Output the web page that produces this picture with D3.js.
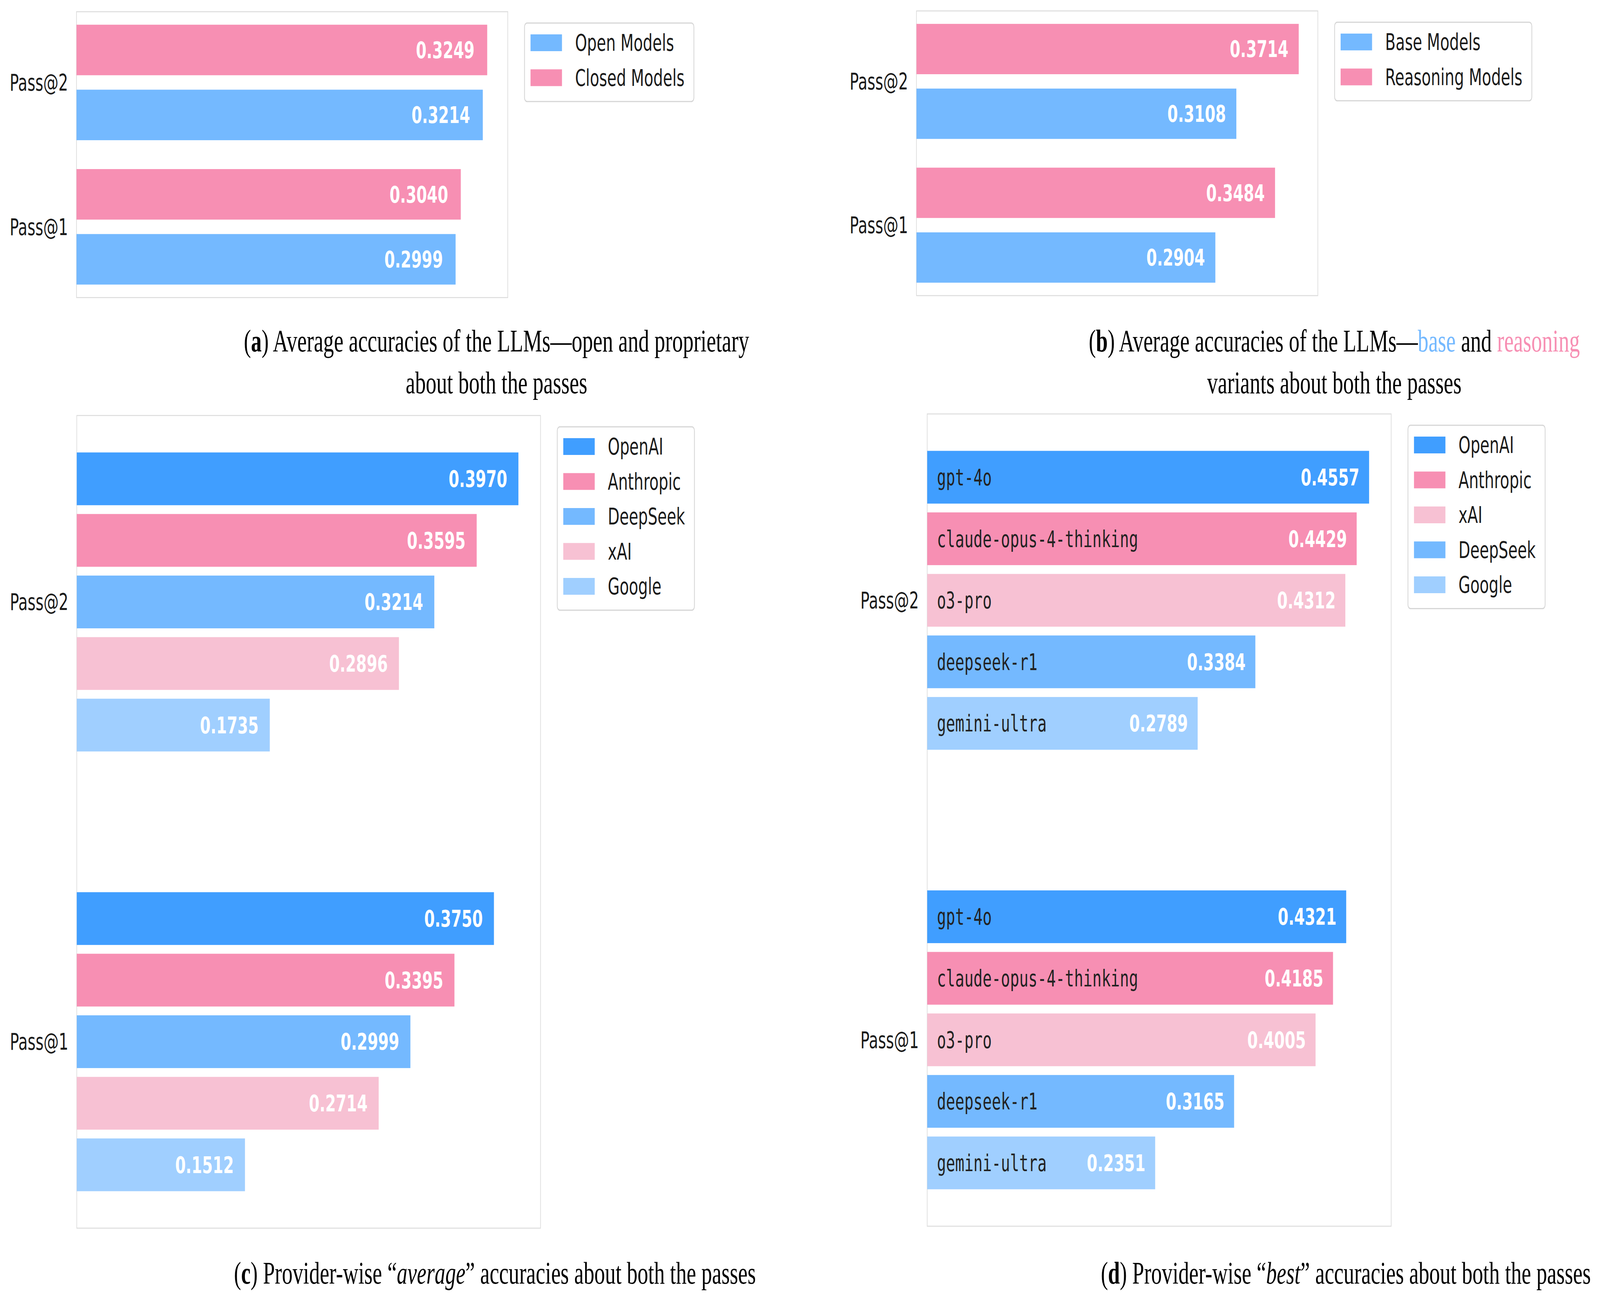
<!DOCTYPE html>
<html>
<head>
<meta charset="utf-8">
<script src="https://cdn.jsdelivr.net/npm/d3@7"></script>
<style>
  html, body { margin: 0; padding: 0; background: #fff; overflow: hidden; }
  svg { display: block; width: 100vw; height: 100vh; }
</style>
</head>
<body>
<div id="chart"></div>
<script>
// ---- data ----
const passes = ["Pass@1", "Pass@2"];

// (a) open vs closed
const openModels = [0.2999, 0.3214];
const closedModels = [0.3040, 0.3249];

// (b) base vs reasoning
const baseModels = [0.2904, 0.3108];
const reasoningModels = [0.3484, 0.3714];

// (c) provider-wise average
const providersAvg = ["OpenAI", "Anthropic", "DeepSeek", "xAI", "Google"];
const openaiAvg = [0.3750, 0.3970];
const anthropicAvg = [0.3395, 0.3595];
const deepseekAvg = [0.2999, 0.3214];
const xaiAvg = [0.2714, 0.2896];
const googleAvg = [0.1512, 0.1735];

// (d) provider-wise best
const providersBest = ["OpenAI", "Anthropic", "xAI", "DeepSeek", "Google"];
const bestModels = ["gpt-4o", "claude-opus-4-thinking", "o3-pro", "deepseek-r1", "gemini-ultra"];
const bestPass1 = [0.4321, 0.4185, 0.4005, 0.3165, 0.2351];
const bestPass2 = [0.4557, 0.4429, 0.4312, 0.3384, 0.2789];

const colors = {
  OpenAI: "#409EFF",
  Anthropic: "#F78FB3",
  DeepSeek: "#74B9FF",
  xAI: "#F7C1D3",
  Google: "#A0CFFF"
};
const blue = "#74B9FF", pink = "#F78FB3";

const W = 6107, H = 3329;
const FONT = "'DejaVu Sans', sans-serif";
const MONO = "'DejaVu Sans Mono', monospace";
const SERIF = "'Liberation Serif', 'DejaVu Serif', serif";
const FS = 58;

// drawn in 6107x3329 units, stretched to fill the window
const svg = d3.select("#chart").append("svg")
  .attr("viewBox", `0 0 ${W} ${H}`)
  .attr("preserveAspectRatio", "none");
svg.append("rect").attr("width", W).attr("height", H).attr("fill", "#fff");

function drawPanel(p) {
  const g = svg.append("g");
  const maxOff = d3.max(p.series, s => Math.abs(s.offset));
  const lo = -maxOff - p.barH / 2, hi = 1 + maxOff + p.barH / 2;
  const pad = (hi - lo) * 0.05;

  const x = d3.scaleLinear()
    .domain([0, d3.max(p.series, s => d3.max(s.values)) * 1.05])
    .range([p.x0, p.x1]);
  const y = d3.scaleLinear().domain([lo - pad, hi + pad]).range([p.y1, p.y0]);
  const bh = Math.abs(y(0) - y(p.barH));

  // frame
  g.append("rect")
    .attr("x", p.x0).attr("y", p.y0)
    .attr("width", p.x1 - p.x0).attr("height", p.y1 - p.y0)
    .attr("fill", "none").attr("stroke", "#dcdcdc").attr("stroke-width", 2.5);

  // bars
  p.series.forEach(s => {
    const rows = s.values.map((v, i) => ({ v, i, label: s.labels ? s.labels[i] : null }));
    g.append("g").selectAll("rect").data(rows).enter().append("rect")
      .attr("x", x(0))
      .attr("y", d => y(d.i + s.offset) - bh / 2)
      .attr("width", d => x(d.v) - x(0))
      .attr("height", bh)
      .attr("fill", s.color);

    g.append("g").selectAll("text").data(rows).enter().append("text")
      .attr("x", d => x(d.v - 0.01))
      .attr("y", d => y(d.i + s.offset))
      .attr("dy", "0.36em")
      .attr("text-anchor", "end")
      .attr("font-family", FONT).attr("font-weight", "bold")
      .attr("font-size", FS).attr("fill", "#fff")
      .text(d => d.v.toFixed(4));

    if (s.labels) {
      g.append("g").selectAll("text").data(rows).enter().append("text")
        .attr("x", x(0.01))
        .attr("y", d => y(d.i + s.offset))
        .attr("dy", "0.36em")
        .attr("font-family", MONO).attr("font-size", FS).attr("fill", "#222")
        .text(d => d.label);
    }
  });

  // y tick labels
  g.append("g").selectAll("text").data(passes).enter().append("text")
    .attr("x", p.x0 - 32)
    .attr("y", (d, i) => y(i))
    .attr("dy", "0.36em")
    .attr("text-anchor", "end")
    .attr("font-family", FONT).attr("font-size", FS).attr("fill", "#1a1a1a")
    .text(d => d);

  // legend
  const lx = p.x1 + 64, ly = p.y0 + 29;
  const rowH = 89.5;
  const lg = g.append("g");
  const box = lg.append("rect")
    .attr("x", lx).attr("y", ly).attr("rx", 10)
    .attr("height", p.legend.length * rowH + 22)
    .attr("fill", "#fff").attr("stroke", "#d6d6d6").attr("stroke-width", 3);
  const items = lg.selectAll("g.item").data(p.legend).enter().append("g");
  items.append("rect")
    .attr("x", lx + 23)
    .attr("y", (d, i) => ly + 29 + i * rowH)
    .attr("width", 120).attr("height", 43)
    .attr("fill", d => d.color);
  const labels = items.append("text")
    .attr("x", lx + 23 + 120 + 50)
    .attr("y", (d, i) => ly + 29 + i * rowH + 21.5)
    .attr("dy", "0.36em")
    .attr("font-family", FONT).attr("font-size", FS).attr("fill", "#1a1a1a")
    .text(d => d.name);
  let maxLen = 0;
  labels.each(function () { maxLen = Math.max(maxLen, this.getComputedTextLength()); });
  box.attr("width", 23 + 120 + 50 + maxLen + 36);
}

// (a)
drawPanel({
  x0: 292, x1: 1938, y0: 30, y1: 762, barH: 0.35,
  series: [
    { values: closedModels, color: pink, offset: 0.225 },
    { values: openModels, color: blue, offset: -0.225 }
  ],
  legend: [{ name: "Open Models", color: blue }, { name: "Closed Models", color: pink }]
});

// (b)
drawPanel({
  x0: 3498, x1: 5030, y0: 28, y1: 757, barH: 0.35,
  series: [
    { values: reasoningModels, color: pink, offset: 0.225 },
    { values: baseModels, color: blue, offset: -0.225 }
  ],
  legend: [{ name: "Base Models", color: blue }, { name: "Reasoning Models", color: pink }]
});

// (c)
const avgValues = [openaiAvg, anthropicAvg, deepseekAvg, xaiAvg, googleAvg];
drawPanel({
  x0: 293, x1: 2063, y0: 1064, y1: 3145, barH: 0.12,
  series: providersAvg.map((pr, k) => ({
    values: avgValues[k], color: colors[pr], offset: 0.28 - k * 0.14
  })),
  legend: providersAvg.map(pr => ({ name: pr, color: colors[pr] }))
});

// (d)
drawPanel({
  x0: 3539, x1: 5310, y0: 1060, y1: 3140, barH: 0.12,
  series: bestModels.map((m, k) => ({
    values: [bestPass1[k], bestPass2[k]],
    labels: [m, m],
    color: colors[providersBest[k]],
    offset: 0.28 - k * 0.14
  })),
  legend: providersBest.map(pr => ({ name: pr, color: colors[pr] }))
});

// ---- captions ----
const captions = [
  { cx: 1895, y: 900, target: 1945, lines: [
    [["(", ""], ["a", "b"], [") Average accuracies of the LLMs\u2014open and proprietary", ""]],
    [["about both the passes", ""]]
  ]},
  { cx: 5093, y: 900, target: 1871, lines: [
    [["(", ""], ["b", "b"], [") Average accuracies of the LLMs\u2014", ""], ["base", "blue"], [" and ", ""], ["reasoning", "pink"]],
    [["variants about both the passes", ""]]
  ]},
  { cx: 1889, y: 3287, target: 1971, lines: [
    [["(", ""], ["c", "b"], [") Provider-wise \u201C", ""], ["average", "i"], ["\u201D accuracies about both the passes", ""]]
  ]},
  { cx: 5137, y: 3287, target: 1877, lines: [
    [["(", ""], ["d", "b"], [") Provider-wise \u201C", ""], ["best", "i"], ["\u201D accuracies about both the passes", ""]]
  ]}
];

const capTexts = [];
captions.forEach(c => {
  c.lines.forEach((line, li) => {
    const t = svg.append("text")
      .attr("x", c.cx).attr("y", c.y + li * 107)
      .attr("text-anchor", "middle")
      .attr("font-family", SERIF).attr("font-size", 78).attr("fill", "#000");
    line.forEach(([str, st]) => {
      const ts = t.append("tspan").text(str);
      if (st === "b") ts.attr("font-weight", "bold");
      if (st === "i") ts.attr("font-style", "italic");
      if (st === "blue") ts.attr("fill", blue);
      if (st === "pink") ts.attr("fill", pink);
    });
    capTexts.push({ node: t, first: li === 0, target: c.target });
  });
});
// fit caption size to the measured width of the first lines
const ratios = capTexts.filter(d => d.first)
  .map(d => d.target / d.node.node().getComputedTextLength());
const capSize = 78 * d3.mean(ratios);
capTexts.forEach(d => d.node.attr("font-size", capSize));
</script>
</body>
</html>
